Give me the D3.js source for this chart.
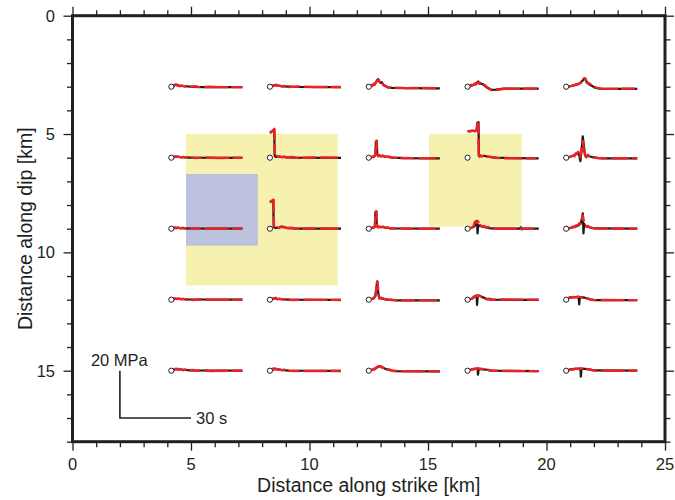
<!DOCTYPE html>
<html>
<head>
<meta charset="utf-8">
<script src="https://cdn.jsdelivr.net/npm/d3@7/dist/d3.min.js"></script>
<style>
  html, body { margin: 0; padding: 0; background: #fff; }
  svg { display: block; }
  text { font-family: "Liberation Sans", Arial, Helvetica, sans-serif; fill: #231f20; }
</style>
</head>
<body>
<svg id="chart" width="675" height="500"></svg>
<script>
// Receiver grid on the fault plane (km)
const strikeKm = [4.17, 8.33, 12.5, 16.67, 20.83];
const dipKm = [3, 6, 9, 12, 15];

// Tick values (km)
const xMajorTicks = [0, 5, 10, 15, 20, 25];
const yMajorTicks = [0, 5, 10, 15];

// Stress patches: strike range, dip range, kind
const patchStrike = [[4.79, 11.19], [15.04, 18.95], [4.79, 7.82]];
const patchDip = [[5.0, 11.4], [5.0, 8.91], [6.69, 9.72]];
const patchKind = ["high", "high", "low"];

// Shear stress histories, [time (s), stress (MPa)], row by row along dip,
// left to right along strike.  Target model (black).
const targetStress = [
  // dip 3 km
  [[0,0],[1,0.4],[2,0.9],[3,0.5],[4,0.3],[6,0.2],[9,-0.1],[14,-0.2],[30,-0.2]],
  [[0,0],[1,0.4],[2,0.6],[3,0.6],[4,0.3],[6,0.1],[10,-0.1],[30,-0.2]],
  [[0,0],[1,0.3],[2,0.8],[3,1.6],[3.5,2.8],[4,3.2],[4.5,2.2],[5,1.6],[5.5,1.9],[6,1.0],[7,0.3],[8,-0.3],[10,-0.5],[15,-0.6],[30,-0.7]],
  [[0,0],[1,0.2],[2,0.6],[3,1.0],[4,1.8],[4.5,2.2],[5,1.4],[6,1.2],[7,0.6],[8,-0.3],[9,-0.9],[10,-1.3],[12,-1.2],[15,-0.8],[30,-0.8]],
  [[0,0],[2,0.3],[3,0.5],[4,0.8],[5,1.1],[6,1.7],[7,2.6],[7.5,3.5],[8,3.3],[8.5,2.0],[9,1.5],[10,0.8],[11,0.3],[12,-0.4],[14,-0.8],[18,-0.9],[30,-0.9]],
  // dip 6 km
  [[0,0],[1,0.3],[2,0.5],[3,0.3],[5,0.2],[8,0],[30,-0.1]],
  [[0,10.6],[1,11.3],[1.8,11.9],[2.0,0.8],[2.5,0.3],[4,0.4],[6,0.2],[10,0],[30,-0.1]],
  [[0,0],[1,0.2],[2,0.4],[2.8,1.0],[3.0,6.8],[3.4,7.1],[3.6,1.2],[4,1.0],[5,0.8],[6,0.6],[8,0.3],[10,0],[15,-0.2],[30,-0.3]],
  [[0,11.2],[3.8,11.4],[4.1,14.8],[4.6,15.0],[4.8,0.8],[5.5,0.6],[7,0.8],[9,0.3],[12,0],[20,-0.2],[30,-0.3]],
  [[0,0],[1,0.2],[2,0.5],[3,0.8],[4,1.5],[5,2.2],[5.5,1.0],[6,-1.5],[6.5,3.0],[7,9.0],[7.5,5.0],[8,1.0],[8.5,0.2],[9,1.0],[10,0.5],[12,0],[15,-0.3],[30,-0.3]],
  // dip 9 km
  [[0,0],[1,0.3],[2,0.4],[4,0.2],[7,0.1],[30,0]],
  [[0,11.3],[1.4,12.0],[1.6,0.6],[2.5,0.3],[4,0.5],[5,0.9],[6,0.6],[8,0.2],[12,0],[30,0]],
  [[0,0],[1,0.2],[2,0.5],[2.6,0.8],[2.8,7.0],[3.2,7.3],[3.4,1.0],[4,0.8],[6,0.6],[8,0.3],[10,0.1],[30,0]],
  [[0,0],[1,0.2],[2,0.5],[3,1.0],[3.5,3.0],[4,3.3],[4.2,-2.0],[4.5,1.5],[5,1.2],[6,1.0],[7,0.8],[8,0.4],[10,0.1],[15,0],[22,0],[22.5,0.6],[23,-0.3],[23.5,0],[30,0]],
  [[0,0],[2,0.3],[3,0.6],[4,0.9],[5,1.3],[6,2.0],[6.5,3.5],[7,6.5],[7.3,-2.0],[7.6,2.0],[8,1.2],[9,1.0],[10,0.5],[12,0.1],[30,0]],
  // dip 12 km
  [[0,0],[1,0.3],[2,0.4],[4,0.3],[7,0.1],[30,0]],
  [[0,0],[1,0.3],[2,0.6],[3,0.4],[5,0.2],[8,0],[30,-0.1]],
  [[0,0],[1,0.2],[2,0.6],[2.8,1.5],[3.2,5.0],[3.6,7.8],[4.0,3.0],[4.4,0.6],[5,0.8],[6,0.3],[8,0],[12,-0.3],[30,-0.3]],
  [[0,0],[1,0.2],[2,0.5],[3,1.3],[3.8,1.8],[4.0,-2.2],[4.3,1.5],[5,1.7],[6,1.2],[7,0.8],[8,0.2],[10,0],[30,-0.1]],
  [[0,0],[1,0.6],[2,1.0],[4,1.1],[5.2,1.2],[5.5,-2.0],[5.8,1.1],[7,1.0],[9,0.6],[10,0.2],[12,-0.2],[30,-0.2]],
  // dip 15 km
  [[0,0],[1,0.4],[2,0.7],[4,0.5],[6,0.3],[8,0.1],[30,0]],
  [[0,0],[1,0.4],[2,0.8],[3,0.6],[5,0.3],[8,0],[30,-0.1]],
  [[0,0],[1,0.2],[2,0.5],[3,1.0],[4,1.7],[4.5,1.9],[5.5,1.6],[6.5,1.0],[7.5,0.6],[9,0.2],[11,-0.2],[30,-0.3]],
  [[0,0],[1,0.3],[2,0.6],[3,0.8],[4.2,0.9],[4.4,-1.7],[4.7,0.8],[6,0.7],[8,0.4],[10,0],[30,-0.2]],
  [[0,0],[1,0.3],[2,0.7],[4,0.8],[6,0.9],[6.2,-2.5],[6.5,0.9],[8,0.8],[10,0.5],[12,0.1],[30,0]]
];

// Inverted model (red), same ordering.
const invertedStress = [
  // dip 3 km
  [[0,0],[0.5,0.3],[1,0.2],[1.5,0.9],[2,1.0],[2.5,0.4],[3,0.7],[3.5,0.2],[4.5,0.5],[5.5,0.1],[7,0.4],[8,0],[10,0.2],[12,-0.2],[16,0],[20,-0.2],[30,-0.2]],
  [[0,0],[0.5,0.4],[1,0.2],[1.5,0.7],[2,0.5],[2.5,0.9],[3,0.4],[4,0.5],[5,0.1],[6,0.3],[8,-0.1],[12,0.1],[18,-0.1],[30,-0.1]],
  [[0,0],[0.5,0.2],[1,0.6],[1.5,0.3],[2,1.2],[2.5,0.8],[3,1.9],[3.5,2.4],[4,2.9],[4.5,2.0],[5,1.5],[5.5,2.0],[6,0.8],[7,0.2],[8,-0.2],[9,-0.5],[12,-0.4],[16,-0.6],[22,-0.5],[30,-0.7]],
  [[0,0],[0.5,0.3],[1,0.1],[1.5,0.8],[2,0.5],[3,1.3],[3.5,0.9],[4,1.8],[4.5,1.7],[5,1.2],[5.5,1.6],[6,0.8],[7,0.9],[8,0],[9,-0.7],[10,-1.4],[11,-1.1],[13,-1.3],[16,-0.8],[20,-0.9],[30,-0.8]],
  [[0,0],[1,0.2],[2,0.2],[3,0.7],[3.5,0.5],[4,1.0],[5,0.9],[5.5,1.5],[6,1.4],[6.5,2.2],[7,2.5],[7.5,3.3],[8,3.6],[8.5,2.6],[9,1.8],[10,1.2],[11,0.6],[12,0],[13,-0.5],[15,-0.8],[20,-0.9],[30,-0.8]],
  // dip 6 km
  [[0,0],[0.5,0.4],[1,0.1],[1.5,0.6],[2,0.3],[3,0.5],[4,0.1],[5,0.3],[6,0],[8,0.2],[10,-0.1],[14,0.1],[20,-0.1],[30,0]],
  [[0,10.4],[0.5,10.7],[1,11.2],[1.5,11.7],[1.9,12.2],[2.1,0.6],[2.5,0.2],[3,0.8],[3.5,0.3],[4,0.6],[5,0.2],[6,0.5],[7,0.1],[9,0.3],[12,-0.1],[18,0.1],[30,0]],
  [[0,0],[0.5,0.3],[1,0.1],[1.5,0.5],[2,0.2],[2.5,0.8],[2.9,1.2],[3.1,6.5],[3.3,7.2],[3.6,1.5],[4,0.6],[4.5,1.1],[5,0.5],[6,0.9],[7,0.3],[8,0.5],[10,0.1],[13,-0.1],[18,-0.2],[30,-0.3]],
  [[0,11.3],[1,11.0],[2,11.4],[3,11.1],[3.9,11.5],[4.1,15.2],[4.5,15.1],[4.7,0.9],[5,0.4],[5.5,1.0],[6,0.6],[7,0.9],[8,0.4],[9,0.5],[11,0],[14,-0.2],[20,-0.3],[30,-0.3]],
  [[0,0],[0.5,0.3],[1,0.1],[2,0.6],[3,0.9],[3.5,0.6],[4,1.8],[4.5,1.5],[5,2.5],[5.5,2.0],[6,0.2],[6.5,4.0],[7,7.0],[7.5,3.5],[8,0.8],[8.5,0.5],[9,1.2],[10,0.6],[11,0.4],[13,-0.1],[18,-0.3],[24,-0.2],[30,-0.3]],
  // dip 9 km
  [[0,0],[0.5,0.5],[1,0.1],[1.5,0.6],[2,0.2],[3,0.5],[4,0.1],[5,0.4],[6,0],[8,0.3],[9,-0.1],[11,0.2],[14,-0.1],[18,0.1],[30,0]],
  [[0,11.0],[0.5,11.5],[1,11.9],[1.5,12.3],[1.7,0.4],[2,0.2],[3,0.6],[4,0.3],[5,1.0],[5.5,0.6],[6,0.8],[7,0.3],[9,0.4],[11,0],[16,0.1],[30,0]],
  [[0,0],[0.5,0.3],[1,0.1],[1.5,0.6],[2,0.3],[2.6,1.0],[2.8,6.8],[3.2,7.4],[3.5,1.2],[4,0.5],[4.5,1.0],[5,0.6],[6,0.9],[7,0.4],[8,0.6],[9,0.1],[12,0.2],[16,0],[30,0]],
  [[0,0],[0.5,0.3],[1,0.1],[2,0.6],[2.5,1.0],[3,2.8],[3.5,3.2],[4,2.5],[4.5,3.0],[5,1.2],[5.5,1.5],[6,0.9],[7,1.1],[8,0.5],[9,0.7],[10,0.2],[13,0],[18,0.1],[30,0]],
  [[0,0],[1,0.2],[2,0.4],[3,0.9],[3.5,0.6],[4,1.3],[5,1.6],[5.5,2.3],[6,2.0],[6.5,3.2],[7,5.6],[7.5,3.0],[8,1.5],[8.5,0.8],[9,1.2],[10,0.6],[11,0.3],[14,0.1],[20,0],[30,0]],
  // dip 12 km
  [[0,0],[0.5,0.5],[1,0.2],[1.5,0.6],[2,0.3],[3,0.5],[4,0.2],[5,0.4],[6,0],[8,0.3],[9,-0.2],[11,0.1],[13,0.2],[16,0],[30,0]],
  [[0,0],[0.5,0.4],[1,0.2],[1.5,0.7],[2,0.4],[2.5,0.8],[3,0.2],[4,0.4],[5,0.1],[7,0.2],[9,-0.1],[14,0],[30,-0.1]],
  [[0,0],[0.5,0.3],[1,0.1],[1.5,0.5],[2,0.4],[2.5,1.0],[3,3.0],[3.4,7.0],[3.7,7.6],[4.1,2.5],[4.5,0.5],[5,0.9],[5.5,0.4],[6,0.6],[7,0.1],[9,0],[12,-0.3],[18,-0.2],[30,-0.3]],
  [[0,0],[0.5,0.3],[1,0.1],[2,0.6],[2.5,1.2],[3,1.6],[3.5,1.3],[4,1.9],[4.5,1.5],[5,1.8],[5.5,1.4],[6,1.0],[7,0.7],[8,0.3],[9,0.4],[11,0],[15,0.1],[30,0]],
  [[0,0],[0.5,0.5],[1,0.8],[1.5,1.0],[2,0.9],[3,1.2],[4,1.0],[5,1.3],[6,1.1],[7,0.9],[8,0.8],[9,0.5],[10,0.1],[12,-0.2],[16,-0.1],[30,-0.2]],
  // dip 15 km
  [[0,0],[0.5,0.4],[1,0.2],[1.5,0.8],[2,0.5],[2.5,0.9],[3,0.4],[4,0.7],[5,0.2],[6,0.5],[7,0.1],[9,0.3],[11,0],[14,0.2],[16,-0.1],[30,0]],
  [[0,0],[0.5,0.5],[1,0.3],[1.5,1.0],[2,0.6],[2.5,0.9],[3,0.5],[4,0.6],[5,0.2],[6,0.4],[8,0],[12,-0.1],[30,-0.1]],
  [[0,0],[0.5,0.2],[1,0.5],[1.5,0.3],[2,0.8],[2.5,0.6],[3,1.2],[3.5,1.5],[4,1.9],[5,1.8],[5.5,1.3],[6.5,1.2],[7.5,0.5],[8.5,0.6],[10,0],[13,-0.2],[20,-0.3],[30,-0.3]],
  [[0,0],[0.5,0.3],[1,0.2],[2,0.7],[2.5,0.5],[3,0.9],[4,0.8],[4.5,1.1],[5,0.7],[6,0.8],[7,0.5],[8,0.6],[9,0.2],[11,0],[15,-0.1],[30,-0.2]],
  [[0,0],[0.5,0.3],[1,0.1],[2,0.6],[3,0.5],[4,0.9],[5,0.7],[6,1.0],[7,0.8],[8,0.9],[9,0.6],[10,0.5],[11,0.2],[13,0],[30,0]]
];

// Scale bar values
const scaleBarStress = 20; // MPa
const scaleBarTime = 30;   // s
const scaleBarOrigin = [2, 17]; // km (strike, dip)

const svg = d3.select("#chart");
const ink = "#231f20";

// Map scales (km -> px), equal aspect
const x = d3.scaleLinear().domain([0, 25]).range([72.5, 665]);
const y = d3.scaleLinear().domain([0, 18]).range([15.7, 441.7]);

// Trace scales: seconds and MPa expressed as km offsets on the map
const tOffset = d3.scaleLinear().domain([0, 30]).range([0, 3]);
const sOffset = d3.scaleLinear().domain([0, 20]).range([0, 2]);

const patchFill = d3.scaleOrdinal().domain(["high", "low"]).range(["#f6f1ae", "#bcc1dd"]);

// Patches
svg.append("g").selectAll("rect")
  .data(patchKind.map((k, i) => ({ kind: k, s: patchStrike[i], d: patchDip[i] })))
  .join("rect")
  .attr("x", d => x(d.s[0]))
  .attr("y", d => y(d.d[0]))
  .attr("width", d => x(d.s[1]) - x(d.s[0]))
  .attr("height", d => y(d.d[1]) - y(d.d[0]))
  .attr("fill", d => patchFill(d.kind));

// Receivers
const stations = [];
dipKm.forEach((dk, r) => strikeKm.forEach((sk, c) => stations.push({ sk, dk, i: r * 5 + c })));

const traceLine = st => d3.line()
  .x(p => x(st.sk + tOffset(p[0])))
  .y(p => y(st.dk - sOffset(p[1])));

const traces = svg.append("g");
stations.forEach(st => {
  traces.append("path")
    .attr("d", traceLine(st)(targetStress[st.i]))
    .attr("fill", "none")
    .attr("stroke", "#1a1a1a")
    .attr("stroke-width", 2.2)
    .attr("stroke-linejoin", "round");
  traces.append("path")
    .attr("d", traceLine(st)(invertedStress[st.i]))
    .attr("fill", "none")
    .attr("stroke", "#ec2227")
    .attr("stroke-width", 2.4)
    .attr("stroke-linejoin", "round")
    .attr("stroke-dasharray", "18 3 11 4 24 3 14 4");
});

svg.append("g").selectAll("circle")
  .data(stations)
  .join("circle")
  .attr("cx", d => x(d.sk))
  .attr("cy", d => y(d.dk))
  .attr("r", 2.6)
  .attr("fill", "#fff")
  .attr("stroke", ink)
  .attr("stroke-width", 1);

// Scale bar
const [bx, by] = scaleBarOrigin;
svg.append("path")
  .attr("d", d3.line()([
    [x(bx), y(by - sOffset(scaleBarStress))],
    [x(bx), y(by)],
    [x(bx + tOffset(scaleBarTime)), y(by)]
  ]))
  .attr("fill", "none")
  .attr("stroke", ink)
  .attr("stroke-width", 1.6);
svg.append("text")
  .attr("x", x(bx) - 29)
  .attr("y", y(by - sOffset(scaleBarStress)) - 5)
  .attr("font-size", 16.5)
  .text(scaleBarStress + " MPa");
svg.append("text")
  .attr("x", x(bx + tOffset(scaleBarTime)) + 5)
  .attr("y", y(by))
  .attr("dy", "0.35em")
  .attr("font-size", 16.5)
  .text(scaleBarTime + " s");

// Axes: minor and major ticks on all four sides
const minorX = d3.range(0, 26).filter(v => v % 5 !== 0);
const minorY = d3.range(0, 19).filter(v => v % 5 !== 0);
const H = 441.7, L = 72.5, R = 665, T = 15.7;

function tickAxis(axisFn, scale, vals, size, tr) {
  const g = svg.append("g").attr("transform", tr)
    .call(axisFn(scale).tickValues(vals).tickSize(size).tickFormat(""));
  g.select(".domain").remove();
  g.selectAll("line").attr("stroke", ink).attr("stroke-width", 1.3);
  return g;
}
tickAxis(d3.axisBottom, x, minorX, 5.5, `translate(0,${H})`);
tickAxis(d3.axisBottom, x, xMajorTicks, 9, `translate(0,${H})`);
tickAxis(d3.axisTop, x, minorX, 5.5, `translate(0,${T})`);
tickAxis(d3.axisTop, x, xMajorTicks, 9, `translate(0,${T})`);
tickAxis(d3.axisLeft, y, minorY, 5.5, `translate(${L},0)`);
tickAxis(d3.axisLeft, y, yMajorTicks, 9, `translate(${L},0)`);
tickAxis(d3.axisRight, y, minorY, 5.5, `translate(${R},0)`);
tickAxis(d3.axisRight, y, yMajorTicks, 9, `translate(${R},0)`);

// Frame
svg.append("rect")
  .attr("x", L).attr("y", T)
  .attr("width", R - L).attr("height", H - T)
  .attr("fill", "none")
  .attr("stroke", ink)
  .attr("stroke-width", 3);

// Tick labels
svg.append("g").selectAll("text")
  .data(xMajorTicks)
  .join("text")
  .attr("x", d => x(d))
  .attr("y", 470)
  .attr("text-anchor", "middle")
  .attr("font-size", 16.5)
  .text(d => d);
svg.append("g").selectAll("text")
  .data(yMajorTicks)
  .join("text")
  .attr("x", 55)
  .attr("y", d => y(d))
  .attr("dy", "0.36em")
  .attr("text-anchor", "end")
  .attr("font-size", 16.5)
  .text(d => d);

// Axis titles
svg.append("text")
  .attr("x", (L + R) / 2)
  .attr("y", 492)
  .attr("text-anchor", "middle")
  .attr("font-size", 19.5)
  .text("Distance along strike [km]");
svg.append("text")
  .attr("transform", `translate(31.5,${(T + H) / 2}) rotate(-90)`)
  .attr("text-anchor", "middle")
  .attr("font-size", 19.5)
  .text("Distance along dip [km]");
</script>
</body>
</html>
